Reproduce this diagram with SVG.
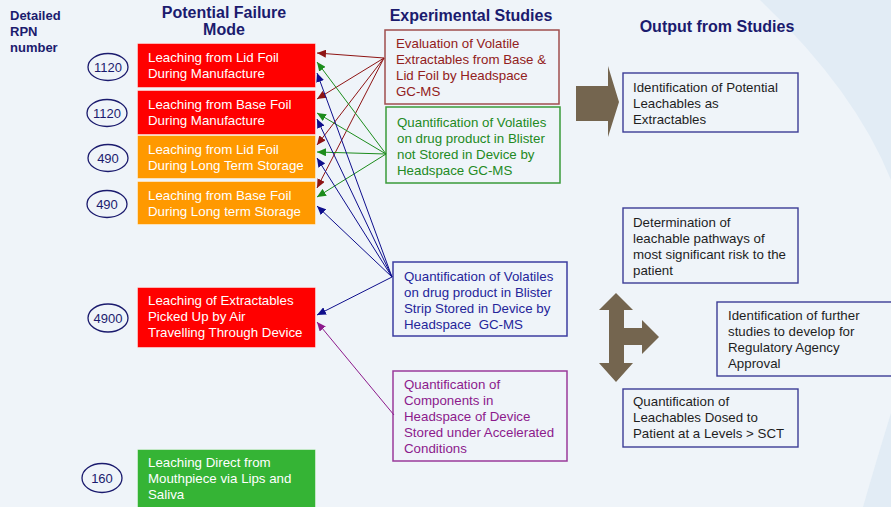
<svg xmlns="http://www.w3.org/2000/svg" width="891" height="507" viewBox="0 0 891 507">
<defs>
<style>
text{font-family:"Liberation Sans",Arial,sans-serif;font-size:13.3px}
.hd{font-weight:bold;fill:#1B1B6E;font-size:13px}
.h16{font-size:16px;text-anchor:middle}
.wt{fill:#ffffff}
.fb{stroke:#ffffff;stroke-opacity:0.45;stroke-width:1}
.num{fill:#1B1B6E;text-anchor:middle;font-size:13px}
.ell{fill:none;stroke:#1B1B6E;stroke-width:1.3}
.out{fill:none;stroke:#3C3C96;stroke-width:1.4}
.ot{fill:#1E1E1E}
.cn line{stroke-width:1}
.red{stroke:#8E1414}
.grn{stroke:#1C8C1C}
.blu{stroke:#0E0E8C}
.pur{stroke:#8C1A8C}
.big{fill:#74654F}
</style>
<marker id="mr" markerUnits="userSpaceOnUse" markerWidth="9" markerHeight="8" refX="9" refY="4" orient="auto"><path d="M0,0 L9,4 L0,8 z" fill="#8E1414"/></marker>
<marker id="mg" markerUnits="userSpaceOnUse" markerWidth="9" markerHeight="8" refX="9" refY="4" orient="auto"><path d="M0,0 L9,4 L0,8 z" fill="#1C8C1C"/></marker>
<marker id="mb" markerUnits="userSpaceOnUse" markerWidth="9" markerHeight="8" refX="9" refY="4" orient="auto"><path d="M0,0 L9,4 L0,8 z" fill="#0E0E8C"/></marker>
<marker id="mp" markerUnits="userSpaceOnUse" markerWidth="9" markerHeight="8" refX="9" refY="4" orient="auto"><path d="M0,0 L9,4 L0,8 z" fill="#8C1A8C"/></marker>
</defs>
<rect x="0" y="0" width="891" height="507" fill="#EFF4F9"/>
<path d="M760,0 Q855,90 891,180 L891,0 Z" fill="#E2ECF5"/>
<path d="M891,413 Q875,465 863,507 L891,507 Z" fill="#E2ECF5"/>

<g id="headers">
<text class="hd" x="10" y="20">Detailed</text>
<text class="hd" x="10" y="36">RPN</text>
<text class="hd" x="10" y="52">number</text>
<text class="hd h16" x="224" y="18">Potential Failure</text>
<text class="hd h16" x="224" y="35">Mode</text>
<text class="hd h16" x="471" y="21">Experimental Studies</text>
<text class="hd h16" x="717" y="32">Output from Studies</text>
</g>

<g id="rpn">
<ellipse class="ell" cx="108" cy="67" rx="20" ry="13.5"/><text class="num" x="108" y="71.5">1120</text>
<ellipse class="ell" cx="107" cy="113" rx="20" ry="13.5"/><text class="num" x="107" y="117.5">1120</text>
<ellipse class="ell" cx="108" cy="158" rx="20" ry="13.5"/><text class="num" x="108" y="162.5">490</text>
<ellipse class="ell" cx="107" cy="204" rx="20" ry="13.5"/><text class="num" x="107" y="208.5">490</text>
<ellipse class="ell" cx="108" cy="318" rx="20" ry="14"/><text class="num" x="108" y="322.5">4900</text>
<ellipse class="ell" cx="102" cy="478" rx="20" ry="14.5"/><text class="num" x="102" y="482.5">160</text>
</g>

<g id="fm1"><rect class="fb" x="137.5" y="43.5" width="178" height="44" fill="#FF0000"/>
<text class="wt" x="148" y="61.5">Leaching from Lid Foil</text><text class="wt" x="148" y="77.5">During Manufacture</text></g>
<g id="fm2"><rect class="fb" x="137.5" y="90.5" width="178" height="44" fill="#FF0000"/>
<text class="wt" x="148" y="108.5">Leaching from Base Foil</text><text class="wt" x="148" y="124.5">During Manufacture</text></g>
<g id="fm3"><rect class="fb" x="137.5" y="135.5" width="178" height="43" fill="#FF9900"/>
<text class="wt" x="148" y="153.5">Leaching from Lid Foil</text><text class="wt" x="148" y="169.5">During Long Term Storage</text></g>
<g id="fm4"><rect class="fb" x="137.5" y="181.5" width="178" height="43" fill="#FF9900"/>
<text class="wt" x="148" y="199.5">Leaching from Base Foil</text><text class="wt" x="148" y="215.5">During Long term Storage</text></g>
<g id="fm5"><rect class="fb" x="137.5" y="287.5" width="178" height="60" fill="#FF0000"/>
<text class="wt" x="148" y="305">Leaching of Extractables</text><text class="wt" x="148" y="321">Picked Up by Air</text><text class="wt" x="148" y="337">Travelling Through Device</text></g>
<g id="fm6"><rect class="fb" x="137.5" y="449.5" width="178" height="60" fill="#35B435"/>
<text class="wt" x="148" y="467">Leaching Direct from</text><text class="wt" x="148" y="483">Mouthpiece via Lips and</text><text class="wt" x="148" y="499">Saliva</text></g>

<g id="es1"><rect x="385" y="30" width="174" height="74" fill="none" stroke="#A04E4E" stroke-width="1.5"/>
<g fill="#922020"><text x="396" y="48">Evaluation of Volatile</text><text x="396" y="64">Extractables from Base &amp;</text><text x="396" y="80">Lid Foil by Headspace</text><text x="396" y="96">GC-MS</text></g></g>
<g id="es2"><rect x="386" y="107" width="174" height="76" fill="none" stroke="#3A9A3A" stroke-width="1.5"/>
<g fill="#238A23"><text x="397" y="127">Quantification of Volatiles</text><text x="397" y="143">on drug product in Blister</text><text x="397" y="159">not Stored in Device by</text><text x="397" y="175">Headspace GC-MS</text></g></g>
<g id="es3"><rect x="393" y="262" width="174" height="74" fill="none" stroke="#3C3CA0" stroke-width="1.5"/>
<g fill="#25259A"><text x="404" y="281">Quantification of Volatiles</text><text x="404" y="297">on drug product in Blister</text><text x="404" y="313">Strip Stored in Device by</text><text x="404" y="329" xml:space="preserve">Headspace  GC-MS</text></g></g>
<g id="es4"><rect x="393" y="371" width="174" height="90" fill="none" stroke="#9A3A9A" stroke-width="1.5"/>
<g fill="#8C1A8C"><text x="404" y="389">Quantification of</text><text x="404" y="405">Components in</text><text x="404" y="421">Headspace of Device</text><text x="404" y="437">Stored under Accelerated</text><text x="404" y="453">Conditions</text></g></g>

<g id="out1"><rect class="out" x="623" y="73" width="175" height="59"/>
<text class="ot" x="633" y="92">Identification of Potential</text><text class="ot" x="633" y="108">Leachables as</text><text class="ot" x="633" y="124">Extractables</text></g>
<g id="out2"><rect class="out" x="623" y="208" width="175" height="75"/>
<text class="ot" x="633" y="227">Determination of</text><text class="ot" x="633" y="243">leachable pathways of</text><text class="ot" x="633" y="259">most significant risk to the</text><text class="ot" x="633" y="275">patient</text></g>
<g id="out3"><rect class="out" x="717" y="302" width="180" height="74"/>
<text class="ot" x="728" y="320">Identification of further</text><text class="ot" x="728" y="336">studies to develop for</text><text class="ot" x="728" y="352">Regulatory Agency</text><text class="ot" x="728" y="368">Approval</text></g>
<g id="out4"><rect class="out" x="623" y="389" width="175" height="58"/>
<text class="ot" x="633" y="406">Quantification of</text><text class="ot" x="633" y="422">Leachables Dosed to</text><text class="ot" x="633" y="438">Patient at a Levels &gt; SCT</text></g>

<g id="bigarrows">
<polygon class="big" points="576,86 608,86 608,66 619,102 608,137 608,121 576,121"/>
<polygon class="big" points="616,293 633,310 624,310 624,328 642,328 642,320 659,337 642,354 642,345 624,345 624,363 633,363 616,382 599,363 609,363 609,310 599,310"/>
</g>

<g id="connectors" class="cn">
<line class="red" x1="384" y1="58" x2="317" y2="53" marker-end="url(#mr)"/>
<line class="red" x1="384" y1="58" x2="317" y2="99" marker-end="url(#mr)"/>
<line class="red" x1="384" y1="58" x2="317" y2="145" marker-end="url(#mr)"/>
<line class="red" x1="384" y1="58" x2="317" y2="188" marker-end="url(#mr)"/>
<line class="grn" x1="386" y1="154" x2="317" y2="62" marker-end="url(#mg)"/>
<line class="grn" x1="386" y1="154" x2="317" y2="113" marker-end="url(#mg)"/>
<line class="grn" x1="386" y1="154" x2="317" y2="152" marker-end="url(#mg)"/>
<line class="grn" x1="386" y1="154" x2="317" y2="197" marker-end="url(#mg)"/>
<line class="blu" x1="392" y1="277" x2="317" y2="73" marker-end="url(#mb)"/>
<line class="blu" x1="392" y1="277" x2="317" y2="119" marker-end="url(#mb)"/>
<line class="blu" x1="392" y1="277" x2="317" y2="158" marker-end="url(#mb)"/>
<line class="blu" x1="392" y1="277" x2="317" y2="206" marker-end="url(#mb)"/>
<line class="blu" x1="392" y1="277" x2="317" y2="315" marker-end="url(#mb)"/>
<line class="pur" x1="394" y1="415" x2="317" y2="322" marker-end="url(#mp)"/>
</g>
</svg>
